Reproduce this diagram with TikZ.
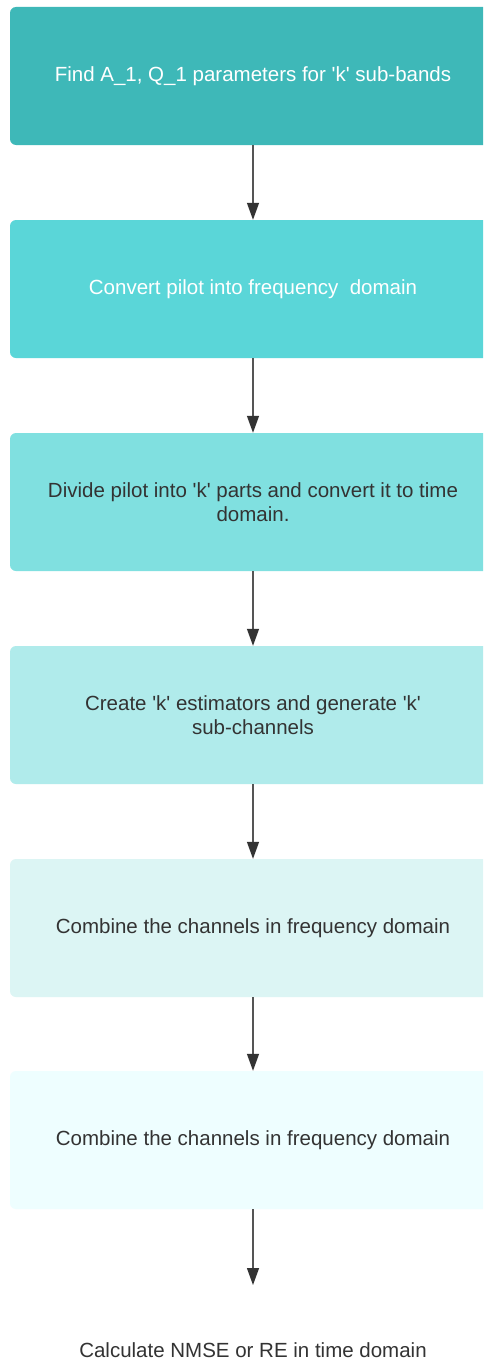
\documentclass[tikz,border=0pt]{standalone}
\usepackage{fontspec}
\setmainfont{Liberation Sans}
\usepackage{xcolor}
\usepackage{tikz}
\usetikzlibrary{arrows.meta}

\definecolor{boxA}{HTML}{3EB8B8}
\definecolor{boxB}{HTML}{5AD6D8}
\definecolor{boxC}{HTML}{80E0E0}
\definecolor{boxD}{HTML}{B0EBEB}
\definecolor{boxE}{HTML}{DCF5F4}
\definecolor{boxF}{HTML}{EEFEFF}
\definecolor{ink}{HTML}{333333}
\definecolor{wire}{HTML}{555555}

\newcommand{\q}{\textquotesingle}

\begin{document}
\begin{tikzpicture}[x=1pt,y=-1pt,
    stepbox/.style={rounded corners=6pt,minimum width=486pt,minimum height=138pt,
        align=center,font=\fontsize{20.5}{24}\selectfont,text=ink},
    flow/.style={draw=wire,line width=1.3pt,-{Triangle[length=17pt,width=12pt,color=ink]}}]

\useasboundingbox (0,0) rectangle (483,1362);
\fill[white] (0,0) rectangle (483,1362);
\clip (0,0) rectangle (483,1362);

    \node[stepbox,fill=boxA,text=white] (find) at (253,76)
        {Find A\_1, Q\_1 parameters for \q k\q{} sub-bands};
    \node[stepbox,fill=boxB,text=white] (conv) at (253,289)
        {Convert pilot into frequency\ \ domain};
    \node[stepbox,fill=boxC] (divide) at (253,502)
        {Divide pilot into \q k\q{} parts and convert it to time\\domain.};
    \node[stepbox,fill=boxD] (create) at (253,715)
        {Create \q k\q{} estimators and generate \q k\q\\sub-channels};
    \node[stepbox,fill=boxE] (combA) at (253,928)
        {Combine the channels in frequency domain};
    \node[stepbox,fill=boxF] (combB) at (253,1140)
        {Combine the channels in frequency domain};

    \node[font=\fontsize{20.5}{24}\selectfont,text=ink] (calc) at (253,1350)
        {Calculate NMSE or RE in time domain};
    \coordinate (calcIn) at (253,1285);

    \draw[flow] (find) -- (conv);
    \draw[flow] (conv) -- (divide);
    \draw[flow] (divide) -- (create);
    \draw[flow] (create) -- (combA);
    \draw[flow] (combA) -- (combB);
    \draw[flow] (combB) -- (calcIn);

\end{tikzpicture}
\end{document}
